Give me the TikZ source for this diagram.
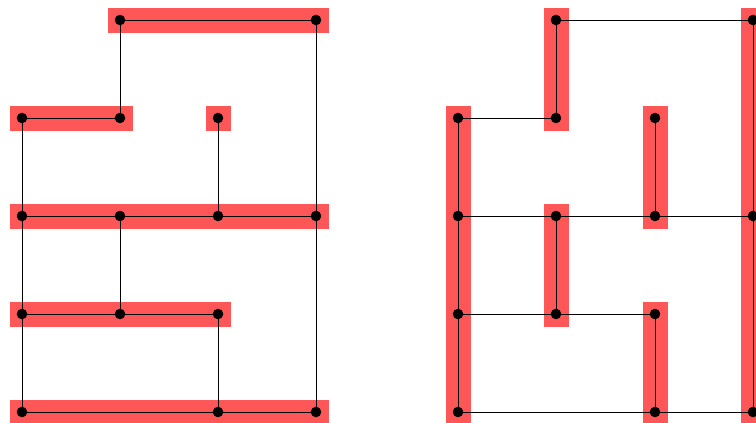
\documentclass[tikz,border=0pt]{standalone}
\usepackage{tikz}
\usetikzlibrary{fit,backgrounds}
\definecolor{barred}{RGB}{255,87,87}

\begin{document}
\begin{tikzpicture}[
  x=1pt, y=-1pt,
  dot/.style={
    circle,
    fill=black,
    inner sep=0pt,
    outer sep=0pt,
    minimum size=10.6pt
  },
  edge/.style={draw=black, line width=1pt},
  bar/.style={fill=barred, inner sep=7.2pt},
]
\useasboundingbox (0,0) rectangle (756,423);

% Left graph.
\node[dot] (l10) at (120,20) {};
\node[dot] (l30) at (316,20) {};
\node[dot] (l01) at (22,118) {};
\node[dot] (l11) at (120,118) {};
\node[dot] (l21) at (218,118) {};
\node[dot] (l02) at (22,216) {};
\node[dot] (l12) at (120,216) {};
\node[dot] (l22) at (218,216) {};
\node[dot] (l32) at (316,216) {};
\node[dot] (l03) at (22,314) {};
\node[dot] (l13) at (120,314) {};
\node[dot] (l23) at (218,314) {};
\node[dot] (l04) at (22,412) {};
\node[dot] (l24) at (218,412) {};
\node[dot] (l34) at (316,412) {};

% Right graph.
\node[dot] (r10) at (556,20) {};
\node[dot] (r30) at (753,20) {};
\node[dot] (r01) at (458,118) {};
\node[dot] (r11) at (556,118) {};
\node[dot] (r21) at (655,118) {};
\node[dot] (r02) at (458,216) {};
\node[dot] (r12) at (556,216) {};
\node[dot] (r22) at (655,216) {};
\node[dot] (r32) at (753,216) {};
\node[dot] (r03) at (458,314) {};
\node[dot] (r13) at (556,314) {};
\node[dot] (r23) at (655,314) {};
\node[dot] (r04) at (458,412) {};
\node[dot] (r24) at (655,412) {};
\node[dot] (r34) at (753,412) {};

% Edges, left.
\draw[edge] (l10) -- (l30);
\draw[edge] (l10) -- (l11);
\draw[edge] (l01) -- (l11);
\draw[edge] (l01) -- (l02) -- (l03) -- (l04);
\draw[edge] (l21) -- (l22);
\draw[edge] (l02) -- (l12) -- (l22) -- (l32);
\draw[edge] (l12) -- (l13);
\draw[edge] (l03) -- (l13) -- (l23);
\draw[edge] (l23) -- (l24);
\draw[edge] (l04) -- (l24) -- (l34);
\draw[edge] (l30) -- (l32) -- (l34);

% Edges, right.
\draw[edge] (r10) -- (r30);
\draw[edge] (r10) -- (r11);
\draw[edge] (r01) -- (r11);
\draw[edge] (r01) -- (r02) -- (r03) -- (r04);
\draw[edge] (r21) -- (r22);
\draw[edge] (r02) -- (r12) -- (r22) -- (r32);
\draw[edge] (r12) -- (r13);
\draw[edge] (r03) -- (r13) -- (r23);
\draw[edge] (r23) -- (r24);
\draw[edge] (r04) -- (r24) -- (r34);
\draw[edge] (r30) -- (r32) -- (r34);

\begin{scope}[on background layer]
  % Horizontal bars.
  \node[bar, fit=(l10)(l30)] {};
  \node[bar, fit=(l01)(l11)] {};
  \node[bar, fit=(l21)] {};
  \node[bar, fit=(l02)(l32)] {};
  \node[bar, fit=(l03)(l23)] {};
  \node[bar, fit=(l04)(l34)] {};
  % Vertical bars.
  \node[bar, fit=(r10)(r11)] {};
  \node[bar, fit=(r30)(r34)] {};
  \node[bar, fit=(r01)(r04)] {};
  \node[bar, fit=(r21)(r22)] {};
  \node[bar, fit=(r12)(r13)] {};
  \node[bar, fit=(r23)(r24)] {};
\end{scope}

\end{tikzpicture}
\end{document}
